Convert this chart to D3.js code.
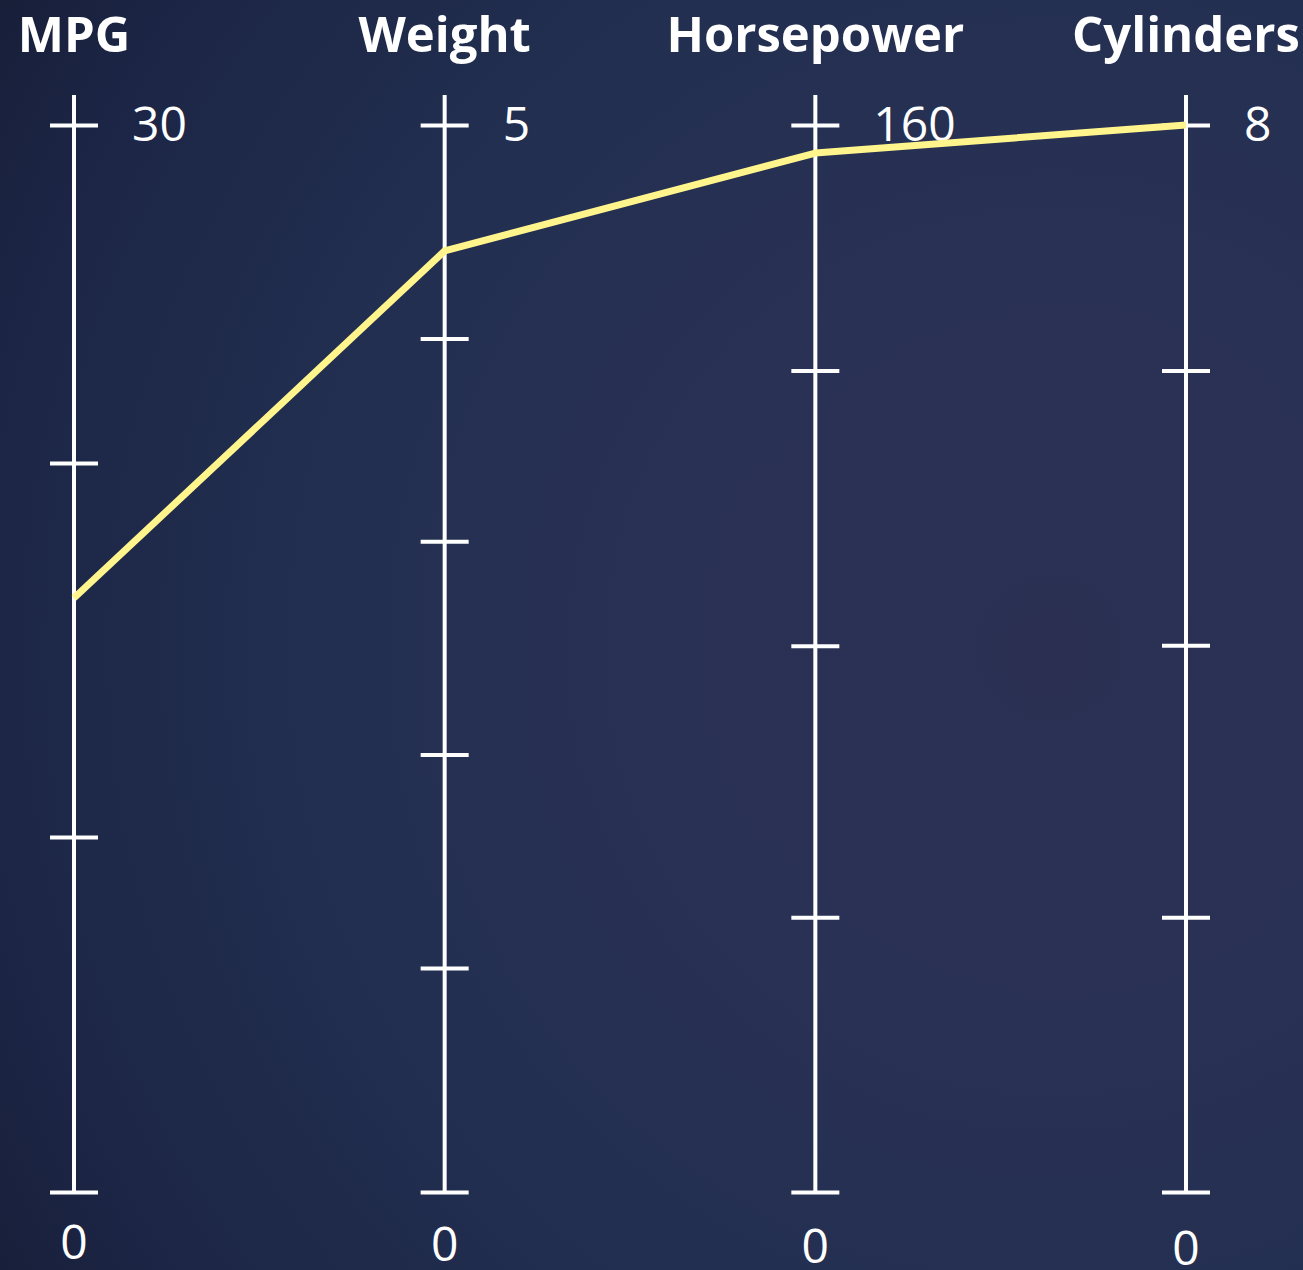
<!DOCTYPE html>
<html>
<head>
<meta charset="utf-8">
<script src="https://cdn.jsdelivr.net/npm/d3@7"></script>
<style>
  html, body { margin: 0; padding: 0; background: #1c2440; }
  svg { display: block; }
</style>
</head>
<body>
<script>
// ---- data ----
const dimensions = ["MPG", "Weight", "Horsepower", "Cylinders"];
const domainMax = [30, 5, 160, 8];
const tickValues = [
  [0, 9.98, 20.5, 30],
  [0, 1.05, 2.05, 3.05, 4, 5],
  [0, 41.2, 81.9, 123.2, 160],
  [0, 2.06, 4.1, 6.16, 8]
];
const tickLabels = [
  ["0", "", "", "30"],
  ["0", "", "", "", "", "5"],
  ["0", "", "", "", "160"],
  ["0", "", "", "", "8"]
];
const car = [16.7, 4.41, 155.8, 8];

// ---- drawing ----
const W = 1303, H = 1270;
const svg = d3.select("body").append("svg").attr("width", W).attr("height", H);

const defs = svg.append("defs");
const grad = defs.append("radialGradient").attr("id", "bg")
  .attr("gradientUnits", "userSpaceOnUse")
  .attr("cx", 1050).attr("cy", 650).attr("r", 1350);
grad.append("stop").attr("offset", "0").attr("stop-color", "#2b3053");
grad.append("stop").attr("offset", "0.3").attr("stop-color", "#293154");
grad.append("stop").attr("offset", "0.55").attr("stop-color", "#222f50");
grad.append("stop").attr("offset", "0.8").attr("stop-color", "#1c2545");
grad.append("stop").attr("offset", "1").attr("stop-color", "#131a30");
svg.append("rect").attr("width", W).attr("height", H).attr("fill", "url(#bg)");

const x = d3.scalePoint().domain(dimensions).range([74, 1186]);
const yScales = dimensions.map((d, i) =>
  d3.scaleLinear().domain([0, domainMax[i]]).range([1192, 125]));

const font = "'Open Sans', 'Noto Sans', sans-serif";

dimensions.forEach((dim, i) => {
  const g = svg.append("g").attr("transform", `translate(${x(dim)},0)`);
  const axis = d3.axisRight(yScales[i])
    .tickValues(tickValues[i])
    .tickSize(0)
    .tickFormat("");
  const ag = g.append("g").call(axis);
  ag.select(".domain").remove();
  g.append("line").attr("x1", 0).attr("x2", 0).attr("y1", 95).attr("y2", 1192)
    .attr("stroke", "#ffffff").attr("stroke-width", 4);
  ag.selectAll(".tick line")
    .attr("x1", -24).attr("x2", 24)
    .attr("stroke", "#ffffff").attr("stroke-width", 4);
  ag.selectAll(".tick text").remove();
  tickValues[i].forEach((v, k) => {
    const lab = tickLabels[i][k];
    if (!lab) return;
    if (v === 0) {
      g.append("text").attr("x", 0).attr("y", 1259 + i * 2)
        .attr("text-anchor", "middle")
        .attr("fill", "#ffffff").attr("font-family", font)
        .attr("font-size", 48).text(lab);
    } else {
      g.append("text").attr("x", 58).attr("y", yScales[i](v) + 16)
        .attr("text-anchor", "start")
        .attr("fill", "#ffffff").attr("font-family", font)
        .attr("font-size", 48).text(lab);
    }
  });
  g.append("text").attr("x", 0).attr("y", 52)
    .attr("text-anchor", "middle")
    .attr("fill", "#ffffff").attr("font-family", font)
    .attr("font-weight", "bold").attr("font-size", 49)
    .text(dim);
});

// data line on top
const line = d3.line().x(d => d[0]).y(d => d[1]);
svg.append("path")
  .datum(dimensions.map((d, i) => [x(d), yScales[i](car[i])]))
  .attr("d", line)
  .attr("fill", "none")
  .attr("stroke", "#fff58c")
  .attr("stroke-width", 7)
  .attr("stroke-linejoin", "round");
</script>
</body>
</html>
